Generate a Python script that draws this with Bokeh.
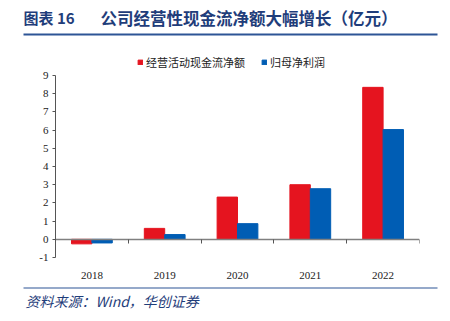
from bokeh.plotting import figure
from bokeh.models import (Range1d, FixedTicker, LinearAxis, Legend, LegendItem, ColumnDataSource)
from bokeh.layouts import column
from bokeh.core.properties import value
from bokeh.embed import file_html
from bokeh.resources import INLINE
import numpy as np

# ---- data ----
years = ["2018", "2019", "2020", "2021", "2022"]
cfo = [-0.25, 0.6, 2.32, 3.0, 8.35]          # 经营活动现金流净额
net_profit = [-0.2, 0.26, 0.86, 2.78, 6.03]  # 归母净利润
y_ticks = list(range(-1, 10))
series_names = ["经营活动现金流净额", "归母净利润"]
title_num = "图表 16"
title_text = "公司经营性现金流净额大幅增长（亿元）"
source_text = "资料来源：Wind，华创证券"

RED = "#E5141F"
BLUE = "#005DB4"
NAVY = "#1F3D7A"
LINE = "#2D5596"
W = 450


def blank(h):
    f = figure(width=W, height=h, x_range=Range1d(0, W), y_range=Range1d(h, 0),
               output_backend="svg", toolbar_location=None, min_border=0,
               x_axis_location=None, y_axis_location=None, frame_align=False)
    f.outline_line_color = None
    f.xgrid.visible = False
    f.ygrid.visible = False
    f.border_fill_color = "white"
    f.background_fill_color = "white"
    return f


# ---- header ----
head = blank(40)
head.text(x=[23], y=[17], text=[title_num], text_font=value("Noto Sans CJK SC"),
          text_font_style="bold", text_font_size="15px", text_color=NAVY, text_baseline="middle")
head.text(x=[100], y=[17], text=[title_text], text_font=value("Noto Sans CJK SC"),
          text_font_style="bold", text_font_size="16.5px", text_color=NAVY, text_baseline="middle")
head.quad(left=[23], right=[437], top=[33], bottom=[35], fill_color=LINE, line_color=None)

# ---- chart ----
idx = np.arange(len(years)) + 0.5
src = ColumnDataSource(dict(xr=idx - 0.14, xb=idx + 0.14, cfo=cfo, npf=net_profit))

# frame spans canvas y 55..257; axis line limited to -1..9 (room above for legend)
p = figure(width=W, height=247, x_range=Range1d(0, len(years)), y_range=Range1d(-1, 10.1),
           output_backend="svg", toolbar_location=None, frame_align=False,
           min_border_left=55, min_border_right=31, min_border_top=15, min_border_bottom=30,
           x_axis_location=None, y_axis_location=None)
p.outline_line_color = None
p.xgrid.visible = False
p.ygrid.visible = False
p.background_fill_color = "white"
p.border_fill_color = "white"

r1 = p.vbar(x="xr", top="cfo", bottom=0, width=0.28, source=src, fill_color=RED, line_color=RED)
r2 = p.vbar(x="xb", top="npf", bottom=0, width=0.28, source=src, fill_color=BLUE, line_color=BLUE)

yax = LinearAxis(ticker=FixedTicker(ticks=y_ticks), bounds=(y_ticks[0], y_ticks[-1]),
                 major_label_overrides={t: str(t) for t in y_ticks})
yax.major_tick_out = 3
yax.major_tick_in = 0
yax.minor_tick_line_color = None
yax.axis_line_color = "#555555"
yax.major_tick_line_color = "#555555"
yax.major_label_text_font = "Liberation Serif"
yax.major_label_text_font_size = "11px"
yax.major_label_text_color = "#222222"
yax.major_label_standoff = 4
p.add_layout(yax, "left")

xlab = LinearAxis(ticker=FixedTicker(ticks=list(idx)),
                  major_label_overrides={float(v): y for v, y in zip(idx, years)})
xlab.axis_line_color = None
xlab.major_tick_line_color = None
xlab.minor_tick_line_color = None
xlab.major_label_text_font = "Liberation Serif"
xlab.major_label_text_font_size = "11px"
xlab.major_label_text_color = "#222222"
xlab.major_label_standoff = 8
p.add_layout(xlab, "below")

xz = LinearAxis(ticker=FixedTicker(ticks=list(range(len(years) + 1))), fixed_location=0)
xz.axis_line_color = "#808080"
xz.axis_line_width = 1.5
xz.major_tick_line_color = "#555555"
xz.major_tick_out = 4
xz.major_tick_in = 0
xz.minor_tick_line_color = None
xz.major_label_text_alpha = 0
xz.major_label_text_font_size = "1px"
xz.major_label_standoff = 0
p.add_layout(xz, "below")

legend = Legend(items=[LegendItem(label=series_names[0], renderers=[r1]),
                       LegendItem(label=series_names[1], renderers=[r2])],
                location=(82, 187), orientation="horizontal")
legend.glyph_width = 6
legend.glyph_height = 6
legend.label_height = 12
legend.label_standoff = 3
legend.spacing = 16
legend.padding = 0
legend.margin = 0
legend.border_line_color = None
legend.background_fill_alpha = 0
legend.label_text_font = "Noto Sans CJK SC"
legend.label_text_font_size = "11px"
legend.label_text_color = "#222222"
p.add_layout(legend, "center")

# ---- footer ----
foot = blank(34)
foot.quad(left=[23], right=[437], top=[-1], bottom=[1], fill_color=LINE, line_color=None)
foot.text(x=[25], y=[13], text=[source_text], text_font=value("Noto Sans CJK SC"),
          text_font_style="italic", text_font_size="14px", text_color=NAVY, text_baseline="middle")

layout = column(head, p, foot, spacing=0)
open("out.html", "w").write(file_html(layout, INLINE))
